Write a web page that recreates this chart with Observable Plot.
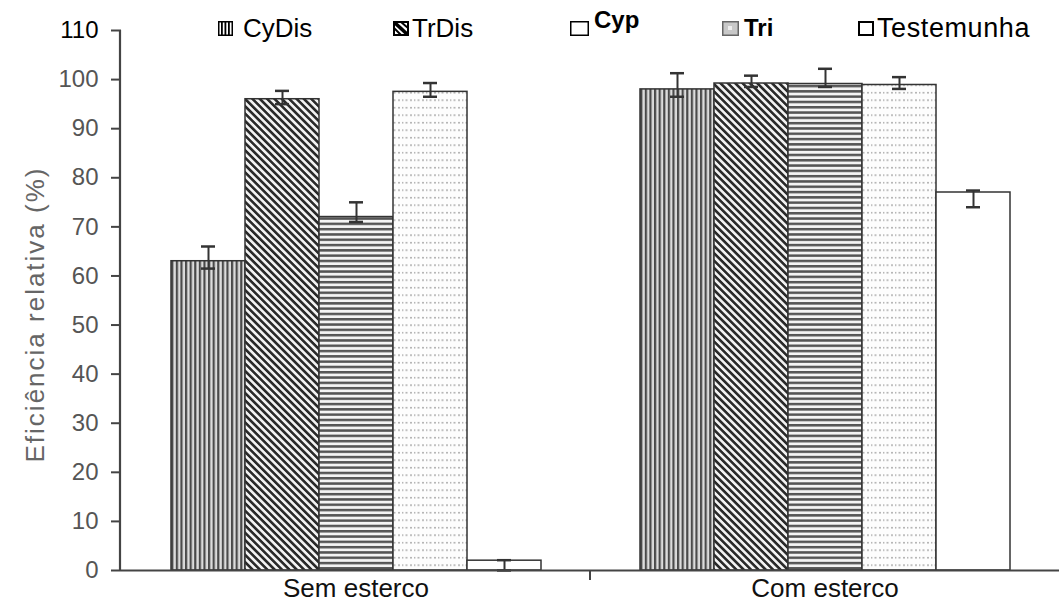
<!DOCTYPE html>
<html><head><meta charset="utf-8">
<script src="https://cdn.jsdelivr.net/npm/d3@7"></script>
<script src="https://cdn.jsdelivr.net/npm/@observablehq/plot@0.6"></script>
<style>
body{margin:0;background:#fff;}
#wrap{position:relative;width:1059px;height:610px;font-family:"Liberation Sans",Arial,sans-serif;}
#legend{position:absolute;left:0;top:0;width:1059px;height:50px;}
.item{position:absolute;top:15px;display:flex;align-items:center;font-size:26px;color:#000;line-height:26px;white-space:nowrap;}
.item svg{display:block;}
#chart svg [aria-label="y-axis tick label"] text{fill:#555;}
#chart svg [aria-label="y-axis label"] text{fill:#666;letter-spacing:2px;font-size:26px;}
#chart svg [aria-label="fx-axis tick label"] text{fill:#111;}
</style></head><body><div id="wrap"><div id="chart"></div><div id="legend"></div></div>
<script>
const groups = ["Sem esterco", "Com esterco"];
const series = ["CyDis", "TrDis", "Cyp", "Tri", "Testemunha"];
const semValues = [63, 96, 72, 97.5, 2];
const semLow    = [61.5, 95, 71, 96.5, 0];
const semHigh   = [66, 97.7, 75, 99.3, 2.1];
const comValues = [98, 99.2, 99.1, 98.9, 77];
const comLow    = [96.5, 98.5, 98.5, 98.1, 74];
const comHigh   = [101.3, 100.8, 102.2, 100.5, 77.4];
const yTicks = [0, 10, 20, 30, 40, 50, 60, 70, 80, 90, 100, 110];
const yLabel = "Eficiência relativa (%)";

const values = [semValues, comValues], lows = [semLow, comLow], highs = [semHigh, comHigh];
const data = [];
groups.forEach((g, gi) => series.forEach((s, si) => data.push({
  group: g, series: s, value: values[gi][si], lo: lows[gi][si], hi: highs[gi][si]
})));
const patternUrls = series.map(s => `url(#p-${s})`);

const chart = Plot.plot({
  width: 1059, height: 610,
  marginLeft: 120, marginRight: 0, marginTop: 30, marginBottom: 40,
  style: {fontFamily: '"Liberation Sans", Arial, sans-serif', background: "#fff"},
  fx: {domain: groups, paddingInner: 0, paddingOuter: 0, axis: null},
  x: {domain: series, paddingInner: 0, paddingOuter: 0.66, axis: null},
  y: {domain: [0, 110], axis: null},
  color: {type: "ordinal", domain: series, range: patternUrls},
  marks: [
    Plot.barY(data, {fx: "group", x: "series", y: "value", fill: "series", stroke: "#333", strokeWidth: 1.5}),
    Plot.ruleX(data, {fx: "group", x: "series", y1: "lo", y2: "hi", stroke: "#333", strokeWidth: 2}),
    Plot.tickY(data, {fx: "group", x: "series", y: "hi", insetLeft: 30, insetRight: 30, stroke: "#333", strokeWidth: 2.5}),
    Plot.tickY(data, {fx: "group", x: "series", y: "lo", insetLeft: 30, insetRight: 30, stroke: "#333", strokeWidth: 2.5}),
    Plot.ruleY([0], {stroke: "#444", strokeWidth: 2}),
    Plot.axisY({ticks: yTicks, tickSize: 10, tickPadding: 13, fontSize: 24, stroke: "#444", strokeWidth: 2,
      label: yLabel, labelAnchor: "center", labelArrow: "none", labelOffset: 96}),
    Plot.axisFx({anchor: "bottom", tickSize: 0, tickPadding: 8, fontSize: 26, label: null})
  ]
});
document.getElementById("chart").appendChild(chart);

// pattern definitions
const svg = d3.select(chart);
const defs = svg.insert("defs", ":first-child");
function pat(id, w, h, bg, rot) {
  const p = defs.append("pattern").attr("id", id).attr("patternUnits", "userSpaceOnUse")
    .attr("width", w).attr("height", h);
  if (rot) p.attr("patternTransform", `rotate(${rot})`);
  p.append("rect").attr("width", w).attr("height", h).attr("fill", bg);
  return p;
}
let p = pat("p-CyDis", 4.6, 10, "#dcdcdc");
p.append("rect").attr("x", 0).attr("width", 2.2).attr("height", 10).attr("fill", "#4a4a4a");
p = pat("p-TrDis", 10, 5.2, "#f2f2f2", 45);
p.append("rect").attr("y", 0).attr("width", 10).attr("height", 2.6).attr("fill", "#2a2a2a");
p = pat("p-Cyp", 10, 5.3, "#f4f4f4");
p.append("rect").attr("y", 0).attr("width", 10).attr("height", 2.5).attr("fill", "#555");
p = pat("p-Tri", 12, 7.5, "#fdfdfd");
[[1, 2, 2, 1.4], [5, 2, 1.4, 1.4], [8.5, 2, 2, 1.4]].forEach(([x, y, w, h]) =>
  p.append("rect").attr("x", x).attr("y", y).attr("width", w).attr("height", h).attr("fill", "#a8a8a8"));
pat("p-Testemunha", 10, 10, "#ffffff");

// axis line and group divider from the library's scales
const ys = chart.scale("y"), fxs = chart.scale("fx");
const y0 = ys.apply(0), yTop = ys.apply(110);
svg.append("line").attr("x1", 120).attr("x2", 120).attr("y1", y0 + 1).attr("y2", yTop)
  .attr("stroke", "#444").attr("stroke-width", 2.2);
const xDiv = fxs.apply(groups[1]);
svg.append("line").attr("x1", xDiv).attr("x2", xDiv).attr("y1", y0).attr("y2", y0 + 10)
  .attr("stroke", "#444").attr("stroke-width", 2);
svg.selectAll('[aria-label="y-axis tick label"] text').filter(function () { return this.textContent === "110"; })
  .style("fill", "#000");
svg.selectAll('[aria-label="y-axis label"] text').attr("dx", -14);

// legend
const legendLeft = [218, 393, 570, 722, 858];
const swatches = {
  CyDis: `<svg width="15" height="15"><rect x="0.75" y="0.75" width="13.5" height="13.5" fill="#fff" stroke="#000" stroke-width="1.5"/><rect x="3" y="1" width="1.8" height="13" fill="#000"/><rect x="6.5" y="1" width="1.8" height="13" fill="#000"/><rect x="10" y="1" width="1.8" height="13" fill="#000"/></svg>`,
  TrDis: `<svg width="16" height="15"><rect x="1" y="1" width="14" height="13" fill="#fff" stroke="#000" stroke-width="2"/><line x1="1" y1="1" x2="15" y2="14" stroke="#000" stroke-width="3.5"/><line x1="1" y1="7" x2="8" y2="14" stroke="#000" stroke-width="2"/><line x1="8" y1="1" x2="15" y2="7" stroke="#000" stroke-width="2"/></svg>`,
  Cyp: `<svg width="19" height="15"><rect x="0.75" y="0.75" width="17.5" height="13.5" fill="#fff" stroke="#000" stroke-width="1.5"/></svg>`,
  Tri: `<svg width="17" height="15"><rect x="0.75" y="0.75" width="15.5" height="13.5" fill="#c8c8c8" stroke="#666" stroke-width="1.5"/><rect x="6" y="5" width="4" height="4" fill="#eee"/></svg>`,
  Testemunha: `<svg width="16" height="15"><rect x="1" y="1" width="14" height="13" fill="#fff" stroke="#000" stroke-width="2"/></svg>`
};
const legendGap = [10, 3, 5, 5, 3];
const leg = document.getElementById("legend");
series.forEach((s, i) => {
  const d = document.createElement("div");
  d.className = "item";
  d.style.left = legendLeft[i] + "px";
  let txtStyle = "";
  if (s === "Cyp") txtStyle = "font-weight:bold;font-size:24px;position:relative;top:-8px;";
  if (s === "Tri") txtStyle = "font-weight:bold;font-size:24px;";
  if (s === "Testemunha") txtStyle = "font-size:27px;letter-spacing:0.6px;";
  d.innerHTML = swatches[s] + `<span style="margin-left:${legendGap[i]}px;${txtStyle}">${s}</span>`;
  leg.appendChild(d);
});
</script></body></html>
